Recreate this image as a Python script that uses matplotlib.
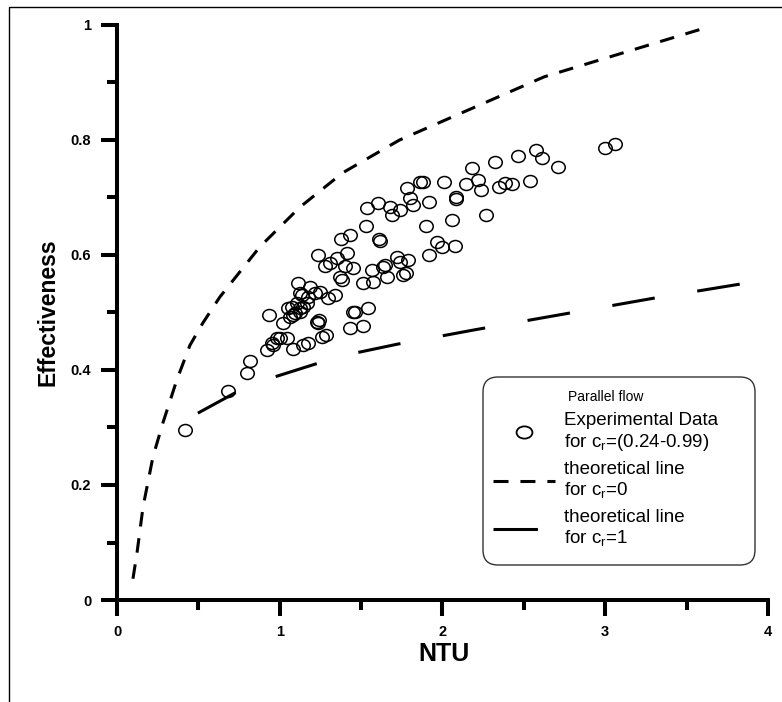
import matplotlib
matplotlib.use('Agg')
import matplotlib.pyplot as plt
from matplotlib.lines import Line2D
from matplotlib.markers import MarkerStyle
from matplotlib.transforms import Affine2D
from matplotlib.patches import FancyBboxPatch, Rectangle
from matplotlib.ticker import MultipleLocator

plt.rcParams['font.family'] = ['Liberation Sans', 'DejaVu Sans']
plt.rcParams['lines.scale_dashes'] = False

# ---------------- data ----------------
exp_ntu = [0.417, 0.681, 0.798, 0.816, 0.920, 0.957, 1.000, 1.043, 1.080, 1.141,
           1.172, 1.258, 1.282, 0.933, 1.018, 1.061, 1.092, 1.123, 1.227, 1.239,
           1.233, 1.448, 1.429, 1.509, 1.540, 1.049, 1.104, 1.166, 1.141, 1.135,
           1.215, 1.245, 1.184, 1.110, 1.294, 1.337, 1.233, 1.276, 1.307, 1.350,
           1.411, 1.399, 1.448, 1.368, 1.380, 1.509, 1.571, 1.564, 1.632, 1.656,
           1.718, 1.736, 1.785, 1.755, 1.773, 1.374, 1.429, 1.528, 1.607, 1.613,
           1.534, 1.601, 1.675, 1.687, 1.736, 1.779, 1.798, 1.816, 1.920, 1.883,
           1.859, 2.012, 1.896, 1.920, 1.969, 1.994, 2.074, 2.061, 2.080, 2.086,
           2.147, 2.184, 2.221, 2.239, 2.270, 2.325, 2.350, 2.387, 2.429, 2.466,
           2.540, 2.577, 2.613, 2.712, 3.000, 3.061, 1.123, 1.460, 0.951, 0.982,
           1.172, 1.123, 1.644, 1.074, 1.080]
exp_eff = [0.296, 0.363, 0.395, 0.416, 0.435, 0.443, 0.456, 0.456, 0.437, 0.443,
           0.447, 0.457, 0.461, 0.496, 0.482, 0.492, 0.499, 0.508, 0.483, 0.487,
           0.482, 0.501, 0.473, 0.477, 0.508, 0.508, 0.517, 0.517, 0.510, 0.530,
           0.534, 0.536, 0.544, 0.551, 0.525, 0.530, 0.600, 0.581, 0.586, 0.595,
           0.603, 0.581, 0.577, 0.562, 0.557, 0.551, 0.553, 0.574, 0.579, 0.562,
           0.597, 0.588, 0.591, 0.565, 0.569, 0.628, 0.635, 0.650, 0.628, 0.624,
           0.682, 0.690, 0.683, 0.670, 0.678, 0.717, 0.699, 0.687, 0.692, 0.727,
           0.727, 0.727, 0.650, 0.600, 0.623, 0.614, 0.616, 0.661, 0.701, 0.697,
           0.723, 0.751, 0.730, 0.713, 0.670, 0.762, 0.718, 0.725, 0.723, 0.772,
           0.729, 0.783, 0.769, 0.753, 0.786, 0.793, 0.501, 0.501, 0.447, 0.456,
           0.527, 0.534, 0.583, 0.510, 0.496]

cr0_ntu = [0.098, 0.123, 0.160, 0.221, 0.282, 0.368, 0.448, 0.528, 0.632, 0.877,
           1.123, 1.387, 1.736, 2.626, 3.638]
cr0_eff = [0.037, 0.082, 0.162, 0.249, 0.308, 0.383, 0.443, 0.482, 0.527, 0.614,
           0.683, 0.743, 0.800, 0.910, 0.997]

cr1_ntu = [0.497, 0.724, 0.969, 1.215, 1.472, 1.724, 2.200, 2.800, 3.300, 3.950]
cr1_eff = [0.325, 0.360, 0.388, 0.410, 0.430, 0.445, 0.470, 0.500, 0.525, 0.555]

x_ticks = [0, 1, 2, 3, 4]
x_labels = ['0', '1', '2', '3', '4']
y_ticks = [0, 0.2, 0.4, 0.6, 0.8, 1.0]
y_labels = ['0', '0.2', '0.4', '0.6', '0.8', '1']

legend_title = 'Parallel flow'
lab_exp = 'Experimental Data\nfor c$_\\mathregular{r}$=(0.24-0.99)'
lab_cr0 = 'theoretical line\nfor c$_\\mathregular{r}$=0'
lab_cr1 = 'theoretical line\nfor c$_\\mathregular{r}$=1'

# ---------------- figure ----------------
W, H = 782, 702
fig = plt.figure(figsize=(W / 100, H / 100), dpi=100)
ax = fig.add_axes([117 / W, 1 - 600 / H, (768 - 117) / W, 575 / H])

# outer frame (left and top edges visible)
fig.patches.append(Rectangle((9 / W, -0.1), 1.2, 1.1 - 7 / H,
                             transform=fig.transFigure, fill=False,
                             edgecolor='black', linewidth=1.0, clip_on=False))

circle = MarkerStyle('o', fillstyle='none', transform=Affine2D().scale(1.13, 1.0))
circle_leg = MarkerStyle('o', fillstyle='none', transform=Affine2D().scale(1.3, 1.0))

lw = 2.2
ax.plot(cr0_ntu, cr0_eff, color='black', lw=lw, linestyle=(0, (10.5, 8.5)),
        dash_capstyle='butt')
ax.plot(cr1_ntu, cr1_eff, color='black', lw=lw, linestyle=(0, (31, 31)),
        dash_capstyle='butt')
ax.plot(exp_ntu, exp_eff, linestyle='none', marker=circle, markersize=8.6,
        markeredgecolor='black', markerfacecolor='none', markeredgewidth=1.1)

ax.set_xlim(0, 4)
ax.set_ylim(0, 1)
for s in ['top', 'right']:
    ax.spines[s].set_visible(False)
for s in ['left', 'bottom']:
    ax.spines[s].set_linewidth(2.9)

ax.set_xticks(x_ticks)
ax.set_xticklabels(x_labels)
ax.set_yticks(y_ticks)
ax.set_yticklabels(y_labels)
ax.xaxis.set_minor_locator(MultipleLocator(0.5))
ax.yaxis.set_minor_locator(MultipleLocator(0.1))
ax.tick_params(axis='both', which='major', direction='out', length=11.5, width=2.9,
               labelsize=10.5)
ax.tick_params(axis='both', which='minor', direction='out', length=7.5, width=2.9)
ax.tick_params(axis='y', which='major', pad=7)
ax.tick_params(axis='x', which='major', pad=6.5)
for t in ax.get_xticklabels() + ax.get_yticklabels():
    t.set_fontweight('bold')

ax.set_xlabel('NTU', fontsize=18, fontweight='bold')
ax.set_ylabel('Effectiveness', fontsize=16.5, fontweight='bold')
ax.xaxis.set_label_coords(0.503, -0.0725)
ax.yaxis.set_label_coords(-0.0876, 0.5)

# legend
box = FancyBboxPatch((483 / 100, (H - 565) / 100), 272 / 100, 188 / 100,
                     boxstyle='round,pad=0,rounding_size=0.15',
                     transform=fig.dpi_scale_trans, facecolor='white',
                     edgecolor='#333333', linewidth=1.0, zorder=4.5, clip_on=False)
ax.add_artist(box)

handles = [
    Line2D([], [], linestyle='none', marker=circle_leg, markersize=8.8,
           markeredgecolor='black', markerfacecolor='none', markeredgewidth=1.3),
    Line2D([], [], color='black', lw=lw, linestyle=(0, (10.8, 8.6))),
    Line2D([], [], color='black', lw=lw, linestyle=(0, (32, 31))),
]
fs_leg = 13.5
leg = ax.legend(handles, [lab_exp, lab_cr0, lab_cr1], title=legend_title,
                loc='upper left', bbox_to_anchor=(493 / W, 1 - 390 / H),
                bbox_transform=fig.transFigure, frameon=False, borderpad=0,
                borderaxespad=0, fontsize=fs_leg, title_fontsize=10,
                handlelength=62 / (fs_leg * 100 / 72), handletextpad=0.5,
                labelspacing=0.42)
for t in leg.get_texts():
    t.set_linespacing(1.2)
leg.set_zorder(5)

fig.savefig('out.png', dpi=100)
